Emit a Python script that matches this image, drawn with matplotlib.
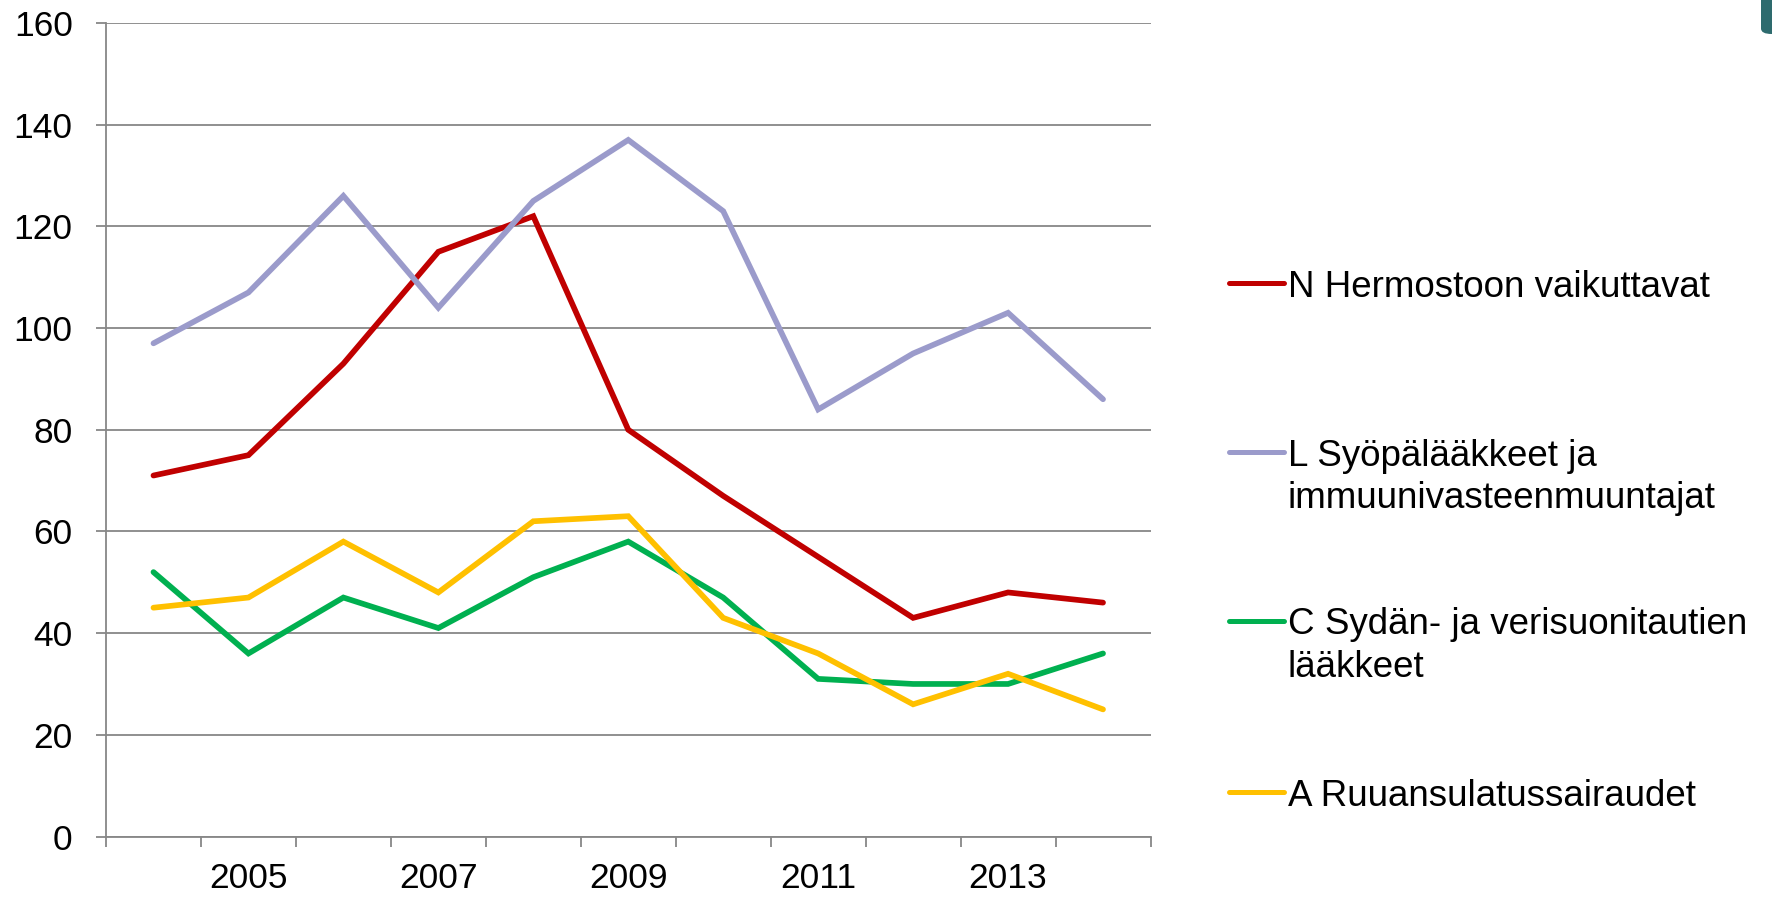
import matplotlib
matplotlib.use("Agg")
import matplotlib.pyplot as plt
from matplotlib.lines import Line2D
from matplotlib.patches import FancyBboxPatch
import numpy as np

plt.rcParams['font.family'] = ['Liberation Sans', 'DejaVu Sans']

years = [2004, 2005, 2006, 2007, 2008, 2009, 2010, 2011, 2012, 2013, 2014]
shown_years = [2005, 2007, 2009, 2011, 2013]

n_hermosto = [71, 75, 93, 115, 122, 80, 67, 55, 43, 48, 46]
l_syopa = [97, 107, 126, 104, 125, 137, 123, 84, 95, 103, 86]
c_sydan = [52, 36, 47, 41, 51, 58, 47, 31, 30, 30, 36]
a_ruuansulatus = [45, 47, 58, 48, 62, 63, 43, 36, 26, 32, 25]

labels = ["N Hermostoon vaikuttavat",
          "L Syöpälääkkeet ja\nimmuunivasteenmuuntajat",
          "C Sydän- ja verisuonitautien\nlääkkeet",
          "A Ruuansulatussairaudet"]
colors = ["#C00000", "#9B9BCB", "#00B050", "#FFC000"]
series = [n_hermosto, l_syopa, c_sydan, a_ruuansulatus]

W, H = 1772, 897
fig = plt.figure(figsize=(W / 100, H / 100), dpi=100)
ax = fig.add_axes([106.0 / W, 1 - 836.5 / H, (1150.5 - 106.0) / W, (836.5 - 23.0) / H])

x = np.arange(len(years))
for vals, col in zip(series, colors):
    ax.plot(x, vals, color=col, lw=4.1, solid_capstyle='round', solid_joinstyle='miter', zorder=3)

grid_col = "#878787"
ax.set_ylim(0, 160)
ax.set_xlim(-0.5, len(years) - 0.5)
ax.set_yticks(np.arange(0, 161, 20))
ax.yaxis.grid(True, color=grid_col, lw=1.3)
ax.set_axisbelow(True)

# x: boundary ticks (major), category labels (minor)
ax.set_xticks(np.arange(-0.5, len(years), 1.0))
ax.set_xticklabels([])
ax.set_xticks(x, minor=True)
ax.set_xticklabels([str(y) if y in shown_years else "" for y in years], minor=True)
ax.tick_params(axis='x', which='major', length=7.5, width=1.3, color=grid_col, direction='out')
ax.tick_params(axis='x', which='minor', length=0, pad=18.5, labelsize=25.5)
ax.tick_params(axis='y', which='major', length=7.5, width=1.3, color=grid_col, direction='out',
               pad=16.5, labelsize=25.5)

for s in ['top', 'right']:
    ax.spines[s].set_visible(False)
for s in ['left', 'bottom']:
    ax.spines[s].set_color(grid_col)
    ax.spines[s].set_linewidth(1.3)

# manual legend (handle centred on the first text line)
leg_y = [283.5, 452.0, 620.5, 792.0]
cap_half = 13.5
line_step = 43.0
for lab, col, yc in zip(labels, colors, leg_y):
    fy = 1 - yc / H
    fig.add_artist(Line2D([1229 / W, 1284 / W], [fy, fy], color=col, lw=3.6,
                          solid_capstyle='round', transform=fig.transFigure))
    for k, part in enumerate(lab.split("\n")):
        fig.text(1288 / W, 1 - (yc + cap_half + k * line_step) / H, part,
                 fontsize=26.5, va='baseline', ha='left')

# decorative corner shape
fig.add_artist(FancyBboxPatch((1761 / W, 1 - 34 / H), 40 / W, 60 / H,
                              boxstyle="round,pad=0,rounding_size=0.006",
                              transform=fig.transFigure, facecolor="#2E6B6E", edgecolor='none'))

fig.savefig("out.png", dpi=100)
